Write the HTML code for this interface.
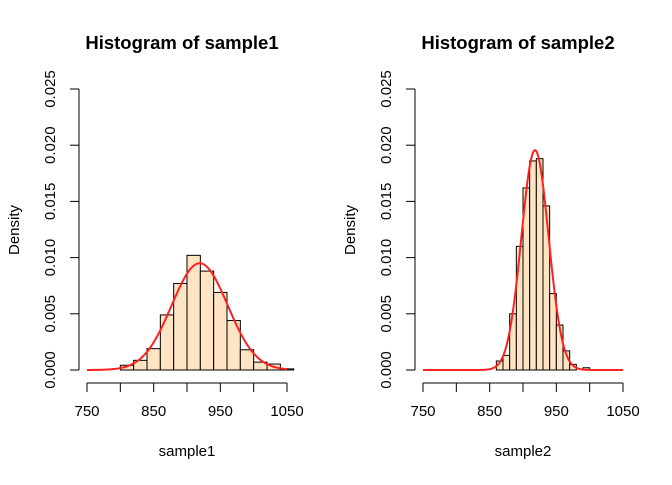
<!DOCTYPE html>
<html><head><meta charset="utf-8"><style>
body{margin:0;background:#fff}
svg text{font-family:"Liberation Sans",Arial,sans-serif;fill:#000}
</style></head><body>
<svg id="chart" width="672" height="480" xmlns="http://www.w3.org/2000/svg"></svg>
<script>
const xTicks=[750,850,950,1050];
const minorTicks=[800,900,1000];
const yTicks=[0,0.005,0.010,0.015,0.020,0.025];
const yTickLabels=["0.000","0.005","0.010","0.015","0.020","0.025"];
const bins1=[800,820,840,860,880,900,920,940,960,980,1000,1020,1040];
const dens1=[0.00042,0.00086,0.0019,0.0049,0.0077,0.0102,0.0088,0.0069,0.0044,0.0018,0.0007,0.00053,0.0001];
const binW1=20;
const bins2=[860,870,880,890,900,910,920,930,940,950,960,970,980,990];
const dens2=[0.0008,0.0013,0.0050,0.0110,0.0162,0.0186,0.0188,0.0146,0.0068,0.0040,0.0017,0.0005,0,0.0002];
const binW2=10;
const normParams1=[919,42];
const normParams2=[918,20.4];
const svg=document.getElementById('chart');
const NS='http://www.w3.org/2000/svg';
function mk(tag,attrs,parent){const e=document.createElementNS(NS,tag);for(const k in attrs)e.setAttribute(k,attrs[k]);(parent||svg).appendChild(e);return e;}
function panel(off,title,xlab,bins,dens,bw,np,idx){
  const g=mk('g',{});
  
  
  const sx=v=>off+87+(v-750)*(200/300);
  const sy=v=>370-v*(281/0.025);
  const t=mk('text',{x:off+182,y:49,'text-anchor':'middle','font-size':'18.5','font-weight':'bold'},g);t.textContent=title;
  
  
  bins.forEach((b,i)=>{if(dens[i]<=0)return;
    const r=mk('rect',{x:sx(b),y:sy(dens[i]),width:sx(b+bw)-sx(b),height:sy(0)-sy(dens[i]),fill:'#ffe4c4',stroke:'#000','stroke-width':1},g);
    
    
  });
  let d='';
  for(let x=750;x<=1050;x+=1){const y=Math.exp(-0.5*((x-np[0])/np[1])**2)/(np[1]*Math.sqrt(2*Math.PI));d+=(x==750?'M':'L')+sx(x).toFixed(2)+','+sy(y).toFixed(2);}
  const p=mk('path',{d:d,fill:'none',stroke:'#ff2020','stroke-width':2},g);
  
  
  const xa=mk('g',{},g);
  
  
  mk('line',{x1:sx(750),x2:sx(1050),y1:383,y2:383,stroke:'#000'},xa);
  xTicks.concat(minorTicks).forEach(v=>mk('line',{x1:sx(v),x2:sx(v),y1:383,y2:392,stroke:'#000'},xa));
  xTicks.forEach(v=>{const tt=mk('text',{x:sx(v),y:416,'text-anchor':'middle','font-size':'15'},xa);tt.textContent=v;});
  const xl=mk('text',{x:off+187,y:456,'text-anchor':'middle','font-size':'15'},g);xl.textContent=xlab;
  
  
  const ya=mk('g',{},g);
  
  
  mk('line',{x1:off+79,x2:off+79,y1:sy(0),y2:sy(0.025),stroke:'#000'},ya);
  yTicks.forEach((v,i)=>{mk('line',{x1:off+70,x2:off+79,y1:sy(v),y2:sy(v),stroke:'#000'},ya);
    const tt=mk('text',{x:off+55,y:sy(v),'text-anchor':'middle','font-size':'15',transform:`rotate(-90 ${off+55} ${sy(v)})`},ya);tt.textContent=yTickLabels[i];});
  const yl=mk('text',{x:off+19,y:230,'text-anchor':'middle','font-size':'15',transform:`rotate(-90 ${off+19} 230)`},g);yl.textContent='Density';
  
  
}
panel(0,'Histogram of sample1','sample1',bins1,dens1,binW1,normParams1,1);
panel(336,'Histogram of sample2','sample2',bins2,dens2,binW2,normParams2,2);
</script>
</body></html>
